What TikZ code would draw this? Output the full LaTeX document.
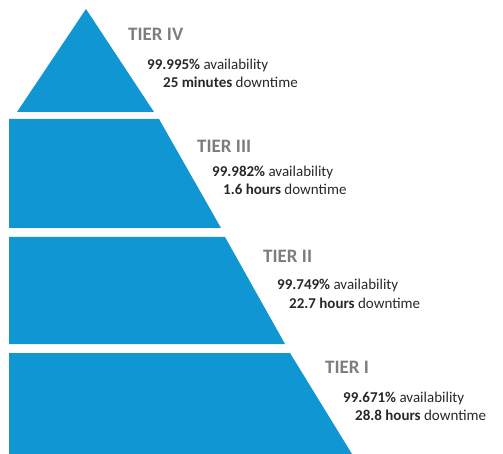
\documentclass[tikz,border=0pt]{standalone}
\usepackage{fontspec}
\setmainfont{Carlito}
\usetikzlibrary{positioning}
\definecolor{tierblue}{RGB}{17,150,212}
\definecolor{tiergray}{RGB}{125,125,125}
\definecolor{infotext}{RGB}{40,40,40}

\begin{document}
\begin{tikzpicture}[x=1pt,y=-1pt,
  tier/.style={anchor=base west, inner sep=0pt, text=tiergray,
    font=\fontsize{19}{19}\selectfont\bfseries},
  info/.style={anchor=base west, inner sep=0pt, text=infotext,
    font=\fontsize{15}{15}\selectfont}]
\useasboundingbox (0,0) rectangle (503,454);
%
% the pyramid, top to bottom
\fill[tierblue] (86,9) -- (154,112) -- (17,112) -- cycle;
\fill[tierblue] (9,119) -- (159,119) -- (221,228) -- (9,228) -- cycle;
\fill[tierblue] (9,237) -- (225,237) -- (285,344) -- (9,344) -- cycle;
\fill[tierblue] (9,353) -- (290,353) -- (352,454) -- (9,454) -- cycle;

%
\node[tier] (t4) at (128,41) {TIER IV};
\node[info] (a4) at (147,70) {\textbf{99.995\%} availability};
\node[info] (d4) at (163,88) {\textbf{25 minutes} downtime};
%
\node[tier] (t3) at (197,153) {TIER III};
\node[info] (a3) at (212,177) {\textbf{99.982\%} availability};
\node[info] (d3) at (223,195) {\textbf{1.6 hours} downtime};
%
\node[tier] (t2) at (263,262) {TIER II};
\node[info] (a2) at (277,290) {\textbf{99.749\%} availability};
\node[info] (d2) at (289,308) {\textbf{22.7 hours} downtime};
%
\node[tier] (t1) at (325,373) {TIER I};
\node[info] (a1) at (343,402) {\textbf{99.671\%} availability};
\node[info] (d1) at (355,420) {\textbf{28.8 hours} downtime};
\end{tikzpicture}
\end{document}
